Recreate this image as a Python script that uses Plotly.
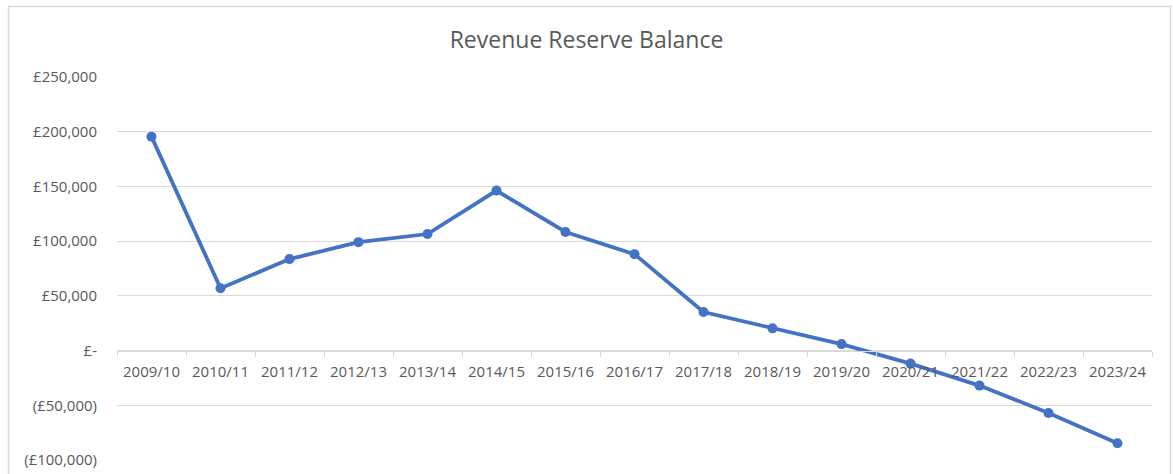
import plotly.graph_objects as go

years = ["2009/10", "2010/11", "2011/12", "2012/13", "2013/14", "2014/15", "2015/16",
         "2016/17", "2017/18", "2018/19", "2019/20", "2020/21", "2021/22", "2022/23", "2023/24"]
balance = [195500, 57000, 83600, 99100, 106500, 146200, 108400, 88100, 35200, 20300,
           5900, -11900, -32000, -57000, -84700]

y_ticks = [-100000, -50000, 0, 50000, 100000, 150000, 200000, 250000]
y_tick_text = ["(£100,000)", "(£50,000)", "£-", "£50,000", "£100,000", "£150,000", "£200,000", "£250,000"]

y_min, y_max = -100000, 250000

fig = go.Figure()
fig.add_trace(go.Scatter(
    x=years, y=balance, mode="lines+markers",
    line=dict(color="#4472C4", width=3.8),
    marker=dict(color="#4472C4", size=10),
    hoverinfo="skip",
))

font_family = "Open Sans, Noto Sans, Liberation Sans, sans-serif"
grey_text = "#595959"

fig.update_layout(
    width=1173, height=474,
    margin=dict(l=117, r=21, t=77, b=14),
    paper_bgcolor="white", plot_bgcolor="white",
    showlegend=False,
    title=dict(text="Revenue Reserve Balance", x=0.5, xanchor="center",
               y=1 - 40 / 474, yanchor="middle",
               font=dict(family=font_family, size=23, color=grey_text)),
    xaxis=dict(
        type="category", anchor="free", position=(0 - y_min) / (y_max - y_min),
        showgrid=False, showline=True, linecolor="#d9d9d9", linewidth=1,
        ticks="outside", tickson="boundaries", ticklen=5, tickcolor="#d9d9d9",
        ticklabelstandoff=7,
        tickfont=dict(family=font_family, size=15, color=grey_text),
        range=[-0.5, len(years) - 0.5], zeroline=False, automargin=False,
    ),
    yaxis=dict(
        range=[y_min, y_max], tickvals=y_ticks, ticktext=y_tick_text,
        showgrid=True, gridcolor="#d9d9d9", gridwidth=1,
        zeroline=False, showline=False, ticks="",
        ticklabelstandoff=19, automargin=False,
        tickfont=dict(family=font_family, size=15, color=grey_text),
    ),
)

# outer chart border (Excel chart area)
fig.add_shape(type="rect", xref="paper", yref="paper",
              x0=(8.5 - 117) / 1035, x1=(1170.5 - 117) / 1035,
              y0=-0.06, y1=(460 - 6.5) / 383,
              line=dict(color="#d9d9d9", width=1.5), layer="below")

fig.write_html("out.html", config={"displayModeBar": False},
               post_script="document.body.style.margin='0';")
